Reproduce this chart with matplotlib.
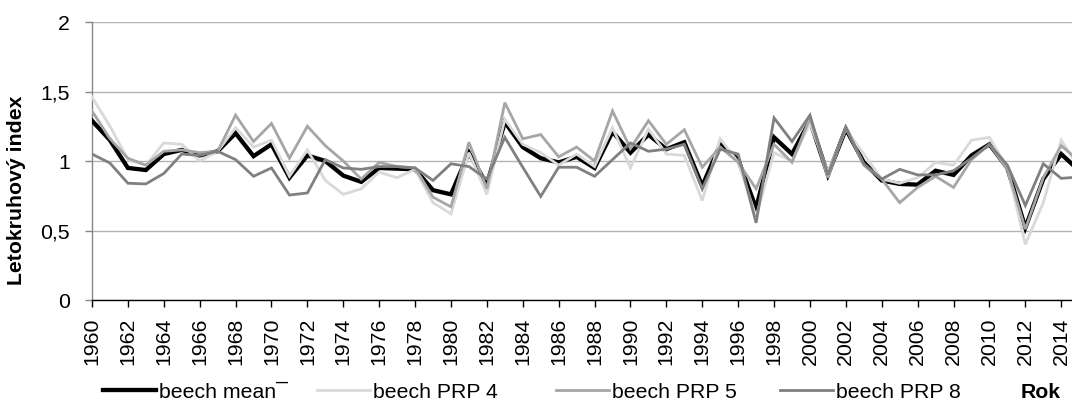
import matplotlib
matplotlib.use("Agg")
import matplotlib.pyplot as plt
from matplotlib.lines import Line2D

# Tree-ring index of beech, 1960-2015
years = list(range(1960, 2016))

beech_mean = [1.29, 1.15, 0.95, 0.935, 1.05, 1.08, 1.04, 1.07, 1.20, 1.035,
              1.12, 0.88, 1.04, 1.00, 0.895, 0.85, 0.95, 0.945, 0.94, 0.79,
              0.76, 1.06, 0.83, 1.28, 1.10, 1.02, 0.99, 1.03, 0.95, 1.21,
              1.06, 1.19, 1.085, 1.135, 0.82, 1.12, 1.01, 0.66, 1.17, 1.05,
              1.29, 0.90, 1.23, 0.99, 0.86, 0.835, 0.83, 0.93, 0.90, 1.04,
              1.12, 0.95, 0.52, 0.87, 1.05, 0.93]

beech_prp4 = [1.46, 1.25, 1.01, 0.97, 1.13, 1.12, 1.00, 1.07, 1.24, 1.10,
              1.15, 0.89, 1.08, 0.86, 0.76, 0.80, 0.92, 0.88, 0.94, 0.70,
              0.62, 1.06, 0.76, 1.30, 1.12, 1.06, 0.97, 1.05, 0.96, 1.24,
              0.95, 1.23, 1.05, 1.04, 0.715, 1.16, 0.99, 0.60, 1.06, 1.00,
              1.27, 0.92, 1.23, 1.05, 0.87, 0.84, 0.88, 0.99, 0.97, 1.15,
              1.17, 0.95, 0.40, 0.70, 1.15, 0.95]

beech_prp5 = [1.36, 1.16, 1.02, 0.97, 1.07, 1.08, 1.06, 1.07, 1.33, 1.14,
              1.27, 1.02, 1.25, 1.11, 1.00, 0.87, 0.99, 0.96, 0.95, 0.74,
              0.67, 1.135, 0.80, 1.42, 1.16, 1.19, 1.03, 1.10, 1.00, 1.36,
              1.09, 1.29, 1.12, 1.225, 0.955, 1.10, 0.99, 0.80, 1.12, 0.99,
              1.31, 0.88, 1.24, 0.97, 0.87, 0.70, 0.81, 0.89, 0.81, 1.01,
              1.12, 0.94, 0.51, 0.88, 1.11, 1.00]

beech_prp8 = [1.05, 0.985, 0.84, 0.835, 0.91, 1.05, 1.04, 1.07, 1.01, 0.89,
              0.95, 0.755, 0.77, 1.01, 0.95, 0.94, 0.96, 0.96, 0.95, 0.86,
              0.98, 0.96, 0.87, 1.17, 0.955, 0.745, 0.955, 0.955, 0.89, 1.01,
              1.13, 1.07, 1.085, 1.12, 0.80, 1.085, 1.05, 0.555, 1.31, 1.14,
              1.33, 0.90, 1.24, 0.98, 0.87, 0.94, 0.90, 0.90, 0.93, 1.02,
              1.12, 0.97, 0.68, 0.98, 0.875, 0.885]

series_labels = ["beech mean\u00af", "beech PRP 4", "beech PRP 5", "beech PRP 8"]
series_colors = ["#000000", "#d9d9d9", "#a6a6a6", "#808080"]
series_widths = [3.1, 2.0, 2.0, 2.0]

tick_years = list(range(1960, 2015, 2))
y_ticks = [0, 0.5, 1, 1.5, 2]
y_tick_labels = ["0", "0,5", "1", "1,5", "2"]

plt.rcParams['font.family'] = ['Liberation Sans', 'DejaVu Sans']
FS = 15.3

W, H = 1072, 406
fig = plt.figure(figsize=(W / 100, H / 100), dpi=100)
ax = fig.add_axes([92 / W, 105 / H, (W - 92) / W, 278 / H])

all_series = [beech_mean, beech_prp4, beech_prp5, beech_prp8]
handles = []
for vals, col, lw in zip(all_series, series_colors, series_widths):
    ln, = ax.plot(years, vals, color=col, lw=lw, solid_joinstyle='miter',
                  zorder=3)
    handles.append(ln)

ax.set_ylim(0, 2)
ax.set_xlim(1960, 2014.6)

ax.set_yticks(y_ticks)
ax.set_yticklabels(y_tick_labels, fontsize=FS)
ax.set_xticks(tick_years)
ax.set_xticklabels([str(y) for y in tick_years], rotation=90, fontsize=FS)

ax.yaxis.grid(True, color='#b3b3b3', lw=1.0, zorder=0)
ax.xaxis.grid(False)
for s in ('top', 'right'):
    ax.spines[s].set_visible(False)
ax.spines['left'].set_color('#868686')
ax.spines['left'].set_linewidth(1.0)
ax.spines['bottom'].set_color('#000000')
ax.spines['bottom'].set_linewidth(1.0)
ax.tick_params(axis='y', direction='out', length=5, width=1.0,
               color='#868686', pad=11)
ax.tick_params(axis='x', direction='out', length=5, width=1.0,
               color='#000000', pad=7)

ax.set_facecolor('white')

# Legend entries placed along the bottom row
legend_x = [103, 317, 556, 780]
leg_y = (H - 393) / H
for h, lab, x in zip(handles, series_labels, legend_x):
    proxy = Line2D([], [], color=h.get_color(), lw=h.get_linewidth())
    fig.legend(handles=[proxy], labels=[lab], loc='center left',
               bbox_to_anchor=(x / W, leg_y), frameon=False,
               handlelength=2.5, handletextpad=0.15, borderpad=0,
               borderaxespad=0, fontsize=FS)

fig.text(1061 / W, leg_y, "Rok", ha='right', va='center', fontsize=FS,
         fontweight='bold')
fig.text(17 / W, (H - 190) / H, "Letokruhový index", rotation=90,
         ha='center', va='center', fontsize=FS, fontweight='bold')

fig.savefig("out.png", dpi=100, facecolor='white')
